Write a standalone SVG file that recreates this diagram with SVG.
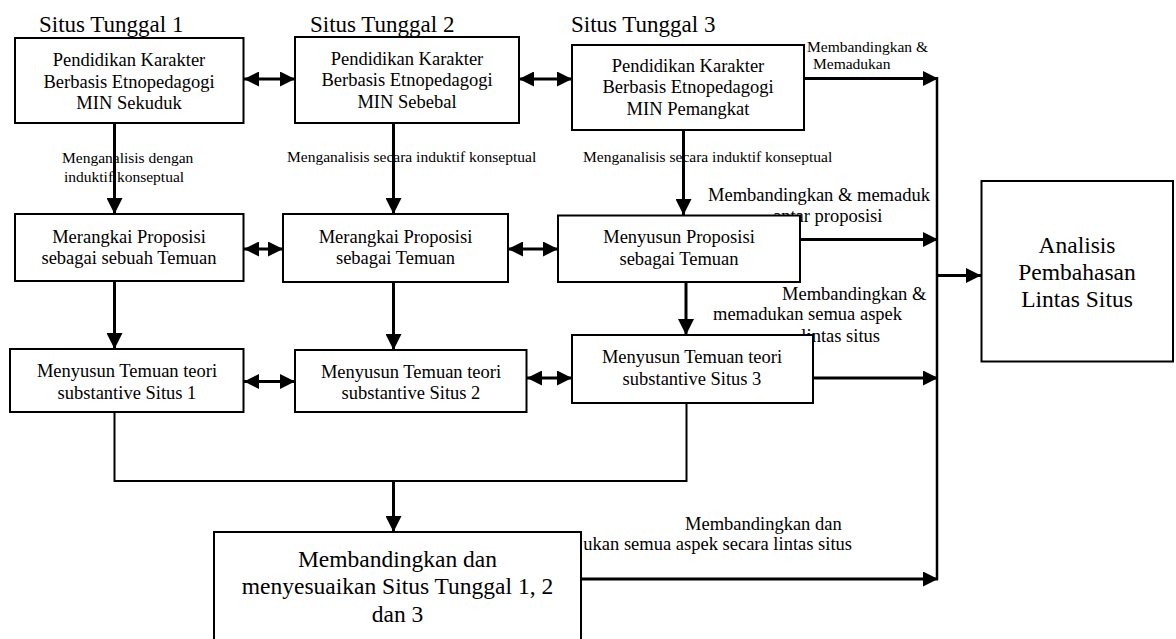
<svg xmlns="http://www.w3.org/2000/svg" width="1176" height="639" viewBox="0 0 1176 639" font-family="'Times New Roman', 'Liberation Serif', 'Noto Serif', serif">
<style>
text{font-family:"Times New Roman","Liberation Serif","Noto Serif",serif;fill:#000}
.t{font-size:23px}
.b{font-size:18.5px;text-anchor:middle}
.s{font-size:15.5px}
.m{font-size:18.5px}
.box{fill:#fff;stroke:#000;stroke-width:2}
.ar{fill:none;stroke:#000;stroke-width:3}
.ln{fill:none;stroke:#000;stroke-width:2}
</style>
<defs>
<marker id="ah" viewBox="0 0 15 15" refX="15" refY="7.5" markerWidth="15" markerHeight="15" markerUnits="userSpaceOnUse" orient="auto-start-reverse">
<path d="M0,0 L15,7.5 L0,15 z" fill="#000"/>
</marker>
<marker id="av" viewBox="0 0 16 16" refX="16" refY="8" markerWidth="16" markerHeight="16" markerUnits="userSpaceOnUse" orient="auto">
<path d="M0,0 L16,8 L0,16 z" fill="#000"/>
</marker>
</defs>
<rect width="1176" height="639" fill="#fff"/>
<g id="titles">
<text class="t" x="39" y="32">Situs Tunggal 1</text>
<text class="t" x="310" y="32">Situs Tunggal 2</text>
<text class="t" x="571" y="32">Situs Tunggal 3</text>
</g>
<g id="connectors">
<text class="s" x="62" y="162.5">Menganalisis dengan</text>
<text class="s" x="64" y="181.5">induktif konseptual</text>
<text class="s" x="287" y="162">Menganalisis secara induktif konseptual</text>
<text class="s" x="583" y="162">Menganalisis secara induktif konseptual</text>
<text class="s" x="807" y="52">Membandingkan &amp;</text>
<text class="s" x="813" y="69">Memadukan</text>
<text class="m" x="708" y="200.5">Membandingkan &amp; memaduk</text>
<text class="m" x="773" y="221.7">antar proposisi</text>
<text class="m" x="782" y="299.5">Membandingkan &amp;</text>
<text class="m" x="713" y="320">memadukan semua aspek</text>
<text class="m" x="880" y="341.5" text-anchor="end">lintas situs</text>
<text class="m" x="685" y="530">Membandingkan dan</text>
<text class="m" x="852" y="550" text-anchor="end">ukan semua aspek secara lintas situs</text>
<line class="ar" x1="244" y1="79" x2="295" y2="79" marker-start="url(#ah)" marker-end="url(#ah)"/>
<line class="ar" x1="519" y1="79" x2="572" y2="79" marker-start="url(#ah)" marker-end="url(#ah)"/>
<line class="ar" x1="244" y1="249" x2="283" y2="249" marker-start="url(#ah)" marker-end="url(#ah)"/>
<line class="ar" x1="508" y1="249" x2="558" y2="249" marker-start="url(#ah)" marker-end="url(#ah)"/>
<line class="ar" x1="244" y1="381.5" x2="295" y2="381.5" marker-start="url(#ah)" marker-end="url(#ah)"/>
<line class="ar" x1="527" y1="378" x2="572" y2="378" marker-start="url(#ah)" marker-end="url(#ah)"/>
<line class="ar" x1="114.5" y1="123" x2="114.5" y2="214" marker-end="url(#av)"/>
<line class="ar" x1="393.5" y1="123" x2="393.5" y2="214" marker-end="url(#av)"/>
<line class="ar" x1="683.5" y1="130" x2="683.5" y2="215" marker-end="url(#av)"/>
<line class="ar" x1="114.5" y1="281" x2="114.5" y2="349" marker-end="url(#av)"/>
<line class="ar" x1="393.5" y1="282" x2="393.5" y2="350" marker-end="url(#av)"/>
<line class="ar" x1="686" y1="282" x2="686" y2="335" marker-end="url(#av)"/>
<polyline class="ln" points="114.5,412 114.5,481 686.5,481 686.5,403"/>
<line class="ar" x1="393.5" y1="481" x2="393.5" y2="532" marker-end="url(#av)"/>
<line class="ar" x1="804" y1="78.5" x2="938" y2="78.5" marker-end="url(#ah)"/>
<line class="ar" x1="800" y1="239.5" x2="938" y2="239.5" marker-end="url(#ah)"/>
<line class="ar" x1="813" y1="378" x2="938" y2="378" marker-end="url(#ah)"/>
<line class="ar" x1="581" y1="579" x2="938" y2="579" marker-end="url(#ah)"/>
<line class="ln" x1="937" y1="77" x2="937" y2="580" style="stroke-width:2.5"/>
<line class="ar" x1="937" y1="275.5" x2="981" y2="275.5" marker-end="url(#ah)"/>
</g>
<g id="n-a1">
<rect class="box" x="15" y="38" width="228.5" height="85"/>
<text class="b" x="129" y="66">Pendidikan Karakter</text>
<text class="b" x="129" y="87.5">Berbasis Etnopedagogi</text>
<text class="b" x="129" y="109">MIN Sekuduk</text>
</g>
<g id="n-a2">
<rect class="box" x="295" y="37" width="224" height="86"/>
<text class="b" x="407" y="65">Pendidikan Karakter</text>
<text class="b" x="407" y="86">Berbasis Etnopedagogi</text>
<text class="b" x="407" y="107.5">MIN Sebebal</text>
</g>
<g id="n-a3">
<rect class="box" x="572" y="45" width="232" height="85"/>
<text class="b" x="688" y="71.5">Pendidikan Karakter</text>
<text class="b" x="688" y="93">Berbasis Etnopedagogi</text>
<text class="b" x="688" y="115">MIN Pemangkat</text>
</g>
<g id="n-b1">
<rect class="box" x="15" y="214" width="228.5" height="67"/>
<text class="b" x="129" y="243">Merangkai Proposisi</text>
<text class="b" x="129" y="264">sebagai sebuah Temuan</text>
</g>
<g id="n-b2">
<rect class="box" x="283" y="214" width="225" height="68"/>
<text class="b" x="395.5" y="243">Merangkai Proposisi</text>
<text class="b" x="395.5" y="264">sebagai Temuan</text>
</g>
<g id="n-b3">
<rect class="box" x="558" y="215.5" width="242" height="66.5"/>
<text class="b" x="679" y="243.3">Menyusun Proposisi</text>
<text class="b" x="679" y="265">sebagai Temuan</text>
</g>
<g id="n-c1">
<rect class="box" x="10" y="349" width="233.5" height="63"/>
<text class="b" x="127" y="377">Menyusun Temuan teori</text>
<text class="b" x="127" y="398.5">substantive Situs 1</text>
</g>
<g id="n-c2">
<rect class="box" x="295" y="350" width="231.5" height="62"/>
<text class="b" x="411" y="377.7">Menyusun Temuan teori</text>
<text class="b" x="411" y="399">substantive Situs 2</text>
</g>
<g id="n-c3">
<rect class="box" x="572" y="335" width="241" height="68"/>
<text class="b" x="692" y="363">Menyusun Temuan teori</text>
<text class="b" x="692" y="384.5">substantive Situs 3</text>
</g>
<g id="n-d">
<rect class="box" x="214" y="532" width="367" height="130"/>
<text class="b" x="397.5" y="566.7" style="font-size:23.5px">Membandingkan dan</text>
<text class="b" x="397.5" y="594" style="font-size:23.5px">menyesuaikan Situs Tunggal 1, 2</text>
<text class="b" x="397.5" y="621.7" style="font-size:23.5px">dan 3</text>
</g>
<g id="n-e">
<rect class="box" x="981.5" y="181" width="191.5" height="180.5"/>
<text class="b" x="1077" y="253" style="font-size:23.5px">Analisis</text>
<text class="b" x="1077" y="280" style="font-size:23.5px">Pembahasan</text>
<text class="b" x="1077" y="307" style="font-size:23.5px">Lintas Situs</text>
</g>
</svg>
